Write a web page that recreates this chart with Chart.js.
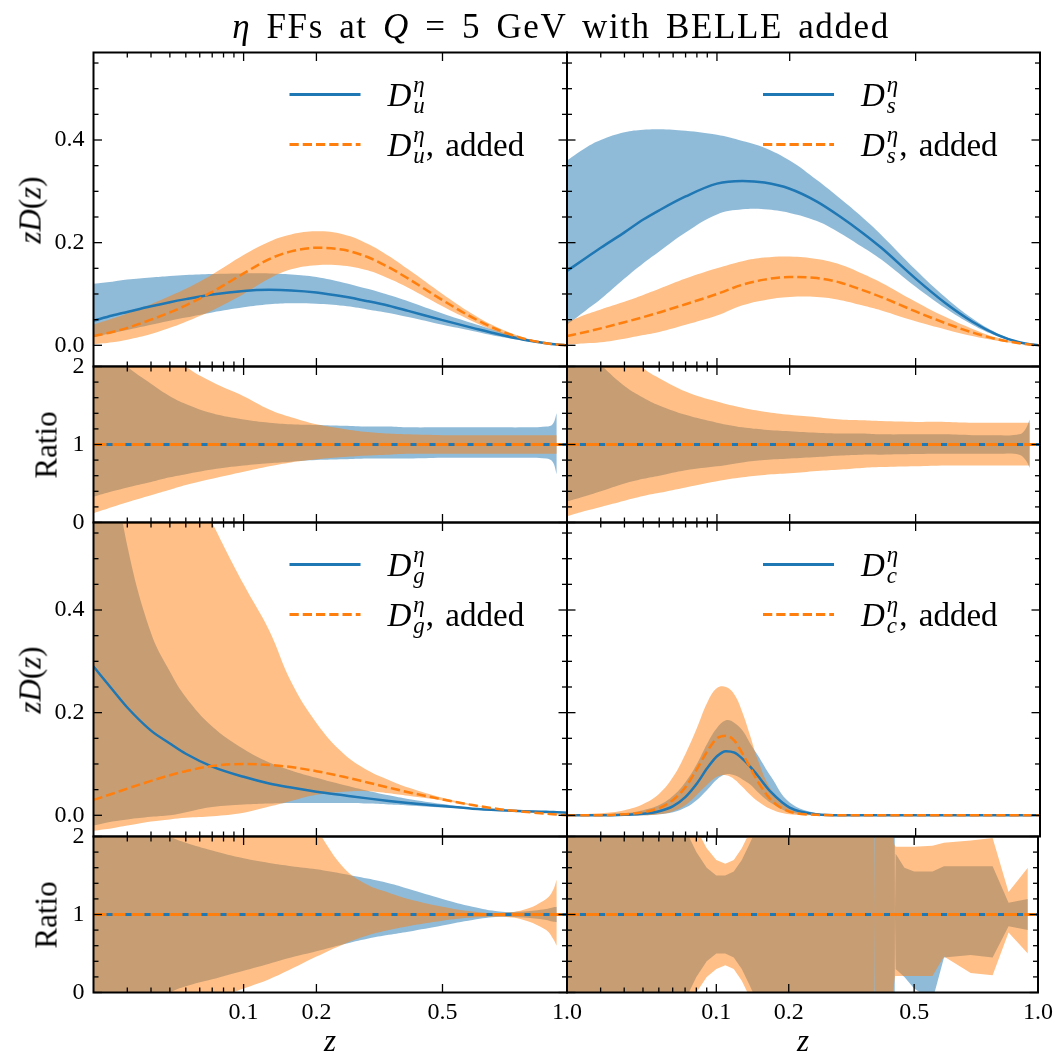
<!DOCTYPE html>
<html>
<head>
<meta charset="utf-8">
<script src="https://cdn.jsdelivr.net/npm/chart.js@4.4.0/dist/chart.umd.min.js"></script>
<style>
  body { margin: 0; background: #fff; }
  #wrap { position: relative; width: 1059px; height: 1057px; overflow: hidden; }
  #wrap canvas { position: absolute; left: 0; top: 0; }
  .lbl { position: absolute; font-family: "Liberation Serif", serif; color: #000; white-space: nowrap; line-height: 1; }
  .rot { transform: translate(-50%, -50%) rotate(-90deg); }
  .ctr { transform: translate(-50%, -50%); }
</style>
</head>
<body>
<div id="wrap">
  <canvas id="c0" width="1059" height="1057"></canvas>
  <canvas id="c1" width="1059" height="1057"></canvas>
  <canvas id="c2" width="1059" height="1057"></canvas>
  <canvas id="c3" width="1059" height="1057"></canvas>
  <canvas id="c4" width="1059" height="1057"></canvas>
  <canvas id="c5" width="1059" height="1057"></canvas>
  <canvas id="c6" width="1059" height="1057"></canvas>
  <canvas id="c7" width="1059" height="1057"></canvas>
  <div class="lbl ctr" style="left:561px; top:26px; font-size:35px; letter-spacing:1.6px; word-spacing:5px;"><i>η</i> FFs at <i>Q</i> = 5 GeV with BELLE added</div>
  <div class="lbl rot" style="left:30px; top:210px; font-size:31px;"><i>zD</i>(<i>z</i>)</div>
  <div class="lbl rot" style="left:30px; top:680px; font-size:31px;"><i>zD</i>(<i>z</i>)</div>
  <div class="lbl rot" style="left:46px; top:445px; font-size:31px;">Ratio</div>
  <div class="lbl rot" style="left:46px; top:915px; font-size:31px;">Ratio</div>
  <div class="lbl ctr" style="left:330px; top:1040px; font-size:31px;"><i>z</i></div>
  <div class="lbl ctr" style="left:803px; top:1040px; font-size:31px;"><i>z</i></div>
</div>
<script>
// ---------------- data ----------------
const zGrid = [0.01, 0.015, 0.02, 0.03, 0.04, 0.05, 0.07, 0.1, 0.13, 0.16, 0.2, 0.25, 0.3, 0.35, 0.4, 0.5, 0.6, 0.7, 0.8, 0.9, 0.95, 1.0];
const zRatio = [0.01, 0.015, 0.02, 0.03, 0.04, 0.05, 0.07, 0.1, 0.13, 0.16, 0.2, 0.25, 0.3, 0.35, 0.4, 0.5, 0.6, 0.7, 0.8, 0.9, 0.93, 0.95];

// D_u
const uCentral    = [0.048, 0.058, 0.065, 0.076, 0.084, 0.090, 0.099, 0.106, 0.108, 0.107, 0.103, 0.095, 0.086, 0.077, 0.067, 0.049, 0.034, 0.021, 0.011, 0.004, 0.0015, 0.0];
const uUpper      = [0.120, 0.124, 0.128, 0.132, 0.135, 0.137, 0.139, 0.140, 0.140, 0.138, 0.133, 0.122, 0.110, 0.098, 0.086, 0.062, 0.043, 0.027, 0.014, 0.005, 0.002, 0.0];
const uLower      = [0.016, 0.024, 0.030, 0.040, 0.048, 0.054, 0.064, 0.074, 0.080, 0.082, 0.081, 0.077, 0.070, 0.063, 0.055, 0.040, 0.028, 0.017, 0.009, 0.003, 0.001, 0.0];
const uAdded      = [0.018, 0.026, 0.034, 0.050, 0.064, 0.078, 0.104, 0.140, 0.168, 0.183, 0.190, 0.186, 0.172, 0.152, 0.130, 0.088, 0.054, 0.029, 0.013, 0.004, 0.0015, 0.0];
const uAddedUpper = [0.040, 0.052, 0.062, 0.080, 0.096, 0.110, 0.138, 0.176, 0.202, 0.216, 0.222, 0.216, 0.198, 0.174, 0.148, 0.100, 0.061, 0.033, 0.015, 0.005, 0.002, 0.0];
const uAddedLower = [0.002, 0.006, 0.011, 0.022, 0.034, 0.046, 0.068, 0.100, 0.130, 0.148, 0.156, 0.155, 0.146, 0.130, 0.112, 0.076, 0.047, 0.025, 0.011, 0.003, 0.001, 0.0];
const uRatioUp      = [2.5, 2.2, 2.0, 1.78, 1.62, 1.52, 1.40, 1.32, 1.28, 1.26, 1.25, 1.24, 1.23, 1.23, 1.22, 1.22, 1.22, 1.22, 1.22, 1.23, 1.26, 1.40];
const uRatioLo      = [0.33, 0.40, 0.45, 0.52, 0.58, 0.62, 0.68, 0.73, 0.76, 0.78, 0.80, 0.81, 0.82, 0.82, 0.82, 0.83, 0.83, 0.83, 0.83, 0.82, 0.78, 0.62];
const uAddRatioUp   = [4.0, 3.3, 2.9, 2.45, 2.2, 2.0, 1.8, 1.62, 1.45, 1.35, 1.26, 1.2, 1.16, 1.14, 1.13, 1.12, 1.12, 1.12, 1.12, 1.12, 1.12, 1.12];
const uAddRatioLo   = [0.12, 0.20, 0.26, 0.35, 0.42, 0.48, 0.56, 0.65, 0.72, 0.77, 0.81, 0.84, 0.86, 0.87, 0.88, 0.88, 0.88, 0.88, 0.88, 0.88, 0.88, 0.88];

// D_s
const sCentral    = [0.145, 0.170, 0.190, 0.220, 0.245, 0.263, 0.290, 0.315, 0.320, 0.317, 0.305, 0.280, 0.250, 0.220, 0.190, 0.130, 0.082, 0.046, 0.021, 0.006, 0.002, 0.0];
const sUpper      = [0.360, 0.385, 0.400, 0.415, 0.420, 0.421, 0.418, 0.410, 0.398, 0.385, 0.360, 0.322, 0.285, 0.250, 0.215, 0.147, 0.093, 0.052, 0.024, 0.007, 0.002, 0.0];
const sLower      = [0.040, 0.068, 0.090, 0.130, 0.160, 0.183, 0.220, 0.255, 0.265, 0.265, 0.258, 0.242, 0.218, 0.192, 0.167, 0.114, 0.072, 0.040, 0.018, 0.005, 0.002, 0.0];
const sAdded      = [0.018, 0.026, 0.033, 0.045, 0.055, 0.064, 0.080, 0.100, 0.118, 0.128, 0.133, 0.131, 0.122, 0.108, 0.094, 0.066, 0.043, 0.025, 0.012, 0.004, 0.0015, 0.0];
const sAddedUpper = [0.045, 0.060, 0.070, 0.085, 0.098, 0.110, 0.130, 0.150, 0.164, 0.171, 0.173, 0.168, 0.157, 0.140, 0.122, 0.085, 0.055, 0.032, 0.015, 0.005, 0.002, 0.0];
const sAddedLower = [0.0015, 0.004, 0.006, 0.013, 0.020, 0.026, 0.040, 0.058, 0.078, 0.088, 0.094, 0.094, 0.088, 0.078, 0.068, 0.047, 0.031, 0.018, 0.009, 0.003, 0.001, 0.0];
const sRatioUp      = [2.5, 2.2, 2.02, 1.75, 1.6, 1.5, 1.38, 1.28, 1.22, 1.19, 1.17, 1.15, 1.14, 1.14, 1.13, 1.13, 1.13, 1.12, 1.12, 1.13, 1.2, 1.32];
const sRatioLo      = [0.27, 0.34, 0.40, 0.50, 0.56, 0.60, 0.67, 0.72, 0.77, 0.80, 0.82, 0.84, 0.86, 0.87, 0.87, 0.877, 0.88, 0.88, 0.88, 0.87, 0.8, 0.7];
const sAddRatioUp   = [3.5, 3.0, 2.7, 2.25, 1.98, 1.85, 1.68, 1.55, 1.47, 1.42, 1.38, 1.35, 1.32, 1.31, 1.30, 1.29, 1.29, 1.28, 1.28, 1.28, 1.28, 1.28];
const sAddRatioLo   = [0.08, 0.15, 0.20, 0.28, 0.34, 0.38, 0.45, 0.53, 0.58, 0.61, 0.63, 0.66, 0.68, 0.70, 0.71, 0.72, 0.73, 0.73, 0.73, 0.73, 0.73, 0.73];

// D_g
const gCentral    = [0.290, 0.245, 0.210, 0.165, 0.140, 0.120, 0.095, 0.075, 0.062, 0.054, 0.046, 0.039, 0.033, 0.028, 0.024, 0.018, 0.013, 0.010, 0.008, 0.007, 0.006, 0.005];
const gUpper      = [1.000, 0.710, 0.525, 0.355, 0.280, 0.230, 0.173, 0.129, 0.103, 0.0875, 0.073, 0.059, 0.048, 0.039, 0.032, 0.022, 0.014, 0.0104, 0.0083, 0.0075, 0.0066, 0.0055];
const gLower      = [-0.020, -0.012, -0.008, -0.003, 0.000, 0.006, 0.016, 0.021, 0.023, 0.024, 0.024, 0.024, 0.023, 0.021, 0.019, 0.015, 0.012, 0.0097, 0.0077, 0.0065, 0.0055, 0.0045];
const gAdded      = [0.030, 0.042, 0.052, 0.067, 0.078, 0.086, 0.096, 0.100, 0.098, 0.094, 0.086, 0.075, 0.064, 0.054, 0.045, 0.031, 0.020, 0.012, 0.007, 0.003, 0.0015, 0.0];
const gAddedUpper = [1.50, 1.20, 0.95, 0.82, 0.75, 0.68, 0.57, 0.45, 0.36, 0.26, 0.18, 0.12, 0.088, 0.069, 0.054, 0.034, 0.021, 0.012, 0.0074, 0.0036, 0.002, 0.0];
const gAddedLower = [-0.030, -0.025, -0.020, -0.012, -0.008, -0.005, -0.002, 0.005, 0.017, 0.028, 0.040, 0.046, 0.047, 0.043, 0.038, 0.029, 0.019, 0.0116, 0.0065, 0.0024, 0.001, 0.0];
const gRatioUp      = [3.5, 2.9, 2.5, 2.15, 2.0, 1.92, 1.82, 1.72, 1.66, 1.62, 1.58, 1.52, 1.46, 1.4, 1.33, 1.2, 1.1, 1.04, 1.04, 1.07, 1.09, 1.1];
const gRatioLo      = [-1.0, -0.6, -0.4, -0.15, 0.0, 0.08, 0.17, 0.28, 0.37, 0.45, 0.53, 0.62, 0.69, 0.74, 0.78, 0.86, 0.93, 0.97, 0.96, 0.93, 0.91, 0.90];
const gAddRatioUp   = [5.0, 4.5, 4.0, 3.8, 3.6, 3.5, 3.3, 3.2, 3.0, 2.6, 2.1, 1.6, 1.38, 1.28, 1.2, 1.1, 1.04, 1.02, 1.06, 1.2, 1.3, 1.45];
const gAddRatioLo   = [-1.0, -0.9, -0.8, -0.6, -0.45, -0.3, -0.1, 0.05, 0.17, 0.30, 0.46, 0.62, 0.73, 0.80, 0.85, 0.92, 0.96, 0.97, 0.93, 0.80, 0.70, 0.60];

// D_c
const zCharm = [0.01, 0.02, 0.03, 0.04, 0.05, 0.06, 0.07, 0.08, 0.09, 0.1, 0.11, 0.12, 0.13, 0.14, 0.15, 0.17, 0.2, 0.25, 0.3, 0.4, 0.5, 0.7, 1.0];
const cCentral    = [0, 0, 0.001, 0.003, 0.008, 0.018, 0.036, 0.062, 0.092, 0.115, 0.125, 0.122, 0.110, 0.095, 0.078, 0.045, 0.015, 0.002, 0, 0, 0, 0, 0];
const cUpper      = [0.001, 0.002, 0.004, 0.010, 0.020, 0.038, 0.065, 0.100, 0.140, 0.170, 0.185, 0.180, 0.165, 0.140, 0.118, 0.075, 0.025, 0.004, 0.001, 0, 0, 0, 0];
const cLower      = [0, 0, 0, 0, 0.002, 0.006, 0.015, 0.030, 0.050, 0.070, 0.080, 0.078, 0.070, 0.060, 0.046, 0.024, 0.006, 0.001, 0, 0, 0, 0, 0];
const cAdded      = [0, 0, 0.002, 0.006, 0.014, 0.030, 0.055, 0.090, 0.125, 0.150, 0.155, 0.145, 0.120, 0.093, 0.067, 0.030, 0.007, 0.001, 0, 0, 0, 0, 0];
const cAddedUpper = [0.002, 0.004, 0.010, 0.022, 0.042, 0.075, 0.120, 0.170, 0.220, 0.248, 0.250, 0.235, 0.200, 0.155, 0.110, 0.050, 0.013, 0.002, 0.001, 0, 0, 0, 0];
const cAddedLower = [0, 0, 0, 0, 0.002, 0.008, 0.020, 0.040, 0.060, 0.075, 0.078, 0.070, 0.055, 0.040, 0.028, 0.012, 0.002, 0, 0, 0, 0, 0, 0];
const zCharmRatio = [0.01, 0.03, 0.05, 0.06, 0.07, 0.08, 0.09, 0.1, 0.11, 0.12, 0.13, 0.14, 0.16, 0.2, 0.3, 0.383, 0.385, 0.387, 0.44, 0.442, 0.444, 0.47, 0.5, 0.56, 0.6, 0.7, 0.79, 0.86, 0.95];
const cRatioUp     = [5, 4, 3, 2.5, 2.1, 1.8, 1.6, 1.5, 1.5, 1.55, 1.7, 1.9, 2.3, 3, 4, 4, 4, 4, 4, 1, 1.78, 1.6, 1.55, 1.55, 1.62, 1.62, 1.62, 1.15, 1.2];
const cRatioLo     = [-3, -2, -1, -0.5, -0.1, 0.2, 0.4, 0.5, 0.5, 0.45, 0.3, 0.1, -0.3, -1, -2, -2, -2, -2, -2, 1, 0.3, 0.2, 0.05, -0.1, 0.45, 0.48, 0.45, 0.85, 0.8];
const cAddRatioUp  = [5, 4, 3.2, 2.8, 2.4, 2.1, 1.85, 1.7, 1.65, 1.7, 1.85, 2.05, 2.5, 3, 4, 4, 1, 4, 1.9, 1.88, 1.87, 1.87, 1.87, 1.88, 1.92, 1.95, 1.98, 1.29, 1.6];
const cAddRatioLo  = [-3, -2, -1.2, -0.7, -0.3, 0.0, 0.2, 0.3, 0.35, 0.3, 0.15, -0.05, -0.5, -1, -2, -2, 1, -2, 0.21, 0.21, 0.21, 0.21, 0.21, 0.21, 0.46, 0.25, 0.22, 0.77, 0.5];

// axis ticks
const xLabelTicks = [0.1, 0.2, 0.5, 1.0];
const xMinorTicks = [0.02, 0.03, 0.04, 0.05, 0.06, 0.07, 0.08, 0.09];
const yMainTicks = [0.0, 0.2, 0.4];
const yMainMinor = [0.05, 0.1, 0.15, 0.25, 0.3, 0.35, 0.45, 0.5, 0.55];
const yRatioTicks = [0, 1, 2];
const yRatioMinor = [0.2, 0.4, 0.6, 0.8, 1.2, 1.4, 1.6, 1.8];
const ratioLine = [1, 1];
const ratioLineX = [0.01, 1.0];

// ---------------- scale: cube-root z axis ----------------
class CbrtScale extends Chart.Scale {
  static id = 'cbrt';
  static defaults = {};
  determineDataLimits() {
    this.min = this.options.min;
    this.max = this.options.max;
  }
  buildTicks() {
    return xLabelTicks.map(v => ({ value: v }));
  }
  getLabelForValue(v) { return String(v); }
  configure() {
    super.configure();
    this._lo = Math.cbrt(this.min);
    this._hi = Math.cbrt(this.max);
  }
  getPixelForValue(v) {
    return this.getPixelForDecimal((Math.cbrt(v) - this._lo) / (this._hi - this._lo));
  }
  getPixelForTick(i) { return this.getPixelForValue(this.ticks[i].value); }
  getValueForPixel(p) {
    const d = this.getDecimalForPixel(p);
    return Math.pow(this._lo + d * (this._hi - this._lo), 3);
  }
}
Chart.register(CbrtScale);

const BLUE = '#1f77b4', ORANGE = '#ff7f0e';
const BLUE_A = 'rgba(31,119,180,0.5)', ORANGE_A = 'rgba(255,127,14,0.5)';
const FONT = '"Liberation Serif", serif';

// inward ticks + frame
const framePlugin = {
  id: 'frame',
  afterDraw(chart, args, o) {
    const { ctx, chartArea: a } = chart;
    const xs = chart.scales.x, ys = chart.scales.y;
    ctx.save();
    ctx.strokeStyle = '#000';
    ctx.lineWidth = 1.3;
    const seg = (x1, y1, x2, y2) => { ctx.beginPath(); ctx.moveTo(x1, y1); ctx.lineTo(x2, y2); ctx.stroke(); };
    const xt = (v, len) => { const p = xs.getPixelForValue(v); seg(p, a.bottom, p, a.bottom - len); seg(p, a.top, p, a.top + len); };
    const yt = (v, len) => { const p = ys.getPixelForValue(v); seg(a.left, p, a.left + len, p); seg(a.right, p, a.right - len, p); };
    xLabelTicks.forEach(v => xt(v, 8.5));
    xMinorTicks.forEach(v => xt(v, 5));
    o.major.forEach(v => yt(v, 8.5));
    o.minor.forEach(v => yt(v, 5));
    ctx.lineWidth = 2;
    ctx.strokeRect(a.left, a.top, a.width, a.height);
    ctx.restore();
  }
};

// legend with math-style labels
const mathLegend = {
  id: 'mathLegend',
  afterDraw(chart, args, o) {
    if (!o.sub) return;
    const { ctx, chartArea: a } = chart;
    const rows = [
      { color: BLUE, dash: [], suffix: '', y: a.top + 42 },
      { color: ORANGE, dash: [9.25, 4], suffix: ', added', y: a.top + 92 }
    ];
    ctx.save();
    rows.forEach(r => {
      ctx.strokeStyle = r.color;
      ctx.lineWidth = 2.8;
      ctx.setLineDash(r.dash);
      ctx.beginPath();
      ctx.moveTo(a.left + 196, r.y);
      ctx.lineTo(a.left + 267, r.y);
      ctx.stroke();
      ctx.setLineDash([]);
      ctx.fillStyle = '#000';
      ctx.textBaseline = 'alphabetic';
      let x = a.left + 294;
      const base = r.y + 11;
      ctx.font = 'italic 33px ' + FONT;
      ctx.fillText('D', x, base);
      x += ctx.measureText('D').width + 2;
      ctx.font = 'italic 23px ' + FONT;
      ctx.fillText('η', x, base - 14);
      ctx.fillText(o.sub, x, base + 7);
      x += Math.max(ctx.measureText('η').width, ctx.measureText(o.sub).width) + 1;
      if (r.suffix) {
        ctx.font = '33px ' + FONT;
        ctx.fillText(',', x, base);
        x += ctx.measureText(', ').width + 3;
        ctx.fillText('added', x, base);
      }
    });
    ctx.restore();
  }
};

function pts(xs, ys) { return xs.map((x, i) => ({ x: x, y: ys[i] })); }

function band(xs, up, lo, color, order, tension) {
  const common = { pointRadius: 0, borderWidth: 0, clip: 0, order: order, tension: tension };
  return [
    Object.assign({ data: pts(xs, up), fill: '+1', backgroundColor: color }, common),
    Object.assign({ data: pts(xs, lo), fill: false }, common)
  ];
}

function line(xs, ys, color, dash, width, order) {
  return { data: pts(xs, ys), borderColor: color, borderWidth: width, borderDash: dash,
           pointRadius: 0, fill: false, clip: 0, order: order, cubicInterpolationMode: 'monotone' };
}

const L = 93.5, M = 567, R = 1040;
const T = 52.5, A = 366.5, B = 522.5, C = 836.5, D = 992.5;
const W = 1059, H = 1057;

function makePanel(id, box, datasets, isRatio, leftCol, bottomRow, sub) {
  const yW = leftCol ? 60 : 0;
  const xH = bottomRow ? 44 : 0;
  const yMin = isRatio ? 0 : -0.0413, yMax = isRatio ? 2 : 0.5705;
  const yTicks = isRatio ? yRatioTicks : yMainTicks;
  new Chart(document.getElementById(id), {
    type: 'line',
    data: { datasets: datasets },
    options: {
      responsive: false, animation: false, events: [], devicePixelRatio: 1,
      layout: { padding: { left: box.l - yW, top: box.t, right: W - box.r, bottom: H - box.b - xH } },
      plugins: {
        legend: { display: false }, tooltip: { enabled: false },
        frame: { major: yTicks, minor: isRatio ? yRatioMinor : yMainMinor },
        mathLegend: { sub: sub || '' }
      },
      scales: {
        x: {
          type: 'cbrt', min: 0.01, max: 1.0, display: bottomRow,
          afterFit: s => { s.height = xH; },
          grid: { display: false, drawTicks: false }, border: { display: false },
          ticks: { padding: 6, autoSkip: false, maxRotation: 0, color: '#000',
                   font: { family: FONT, size: 24 },
                   callback: v => (v === 1 ? '1.0' : String(v)) }
        },
        y: {
          type: 'linear', min: yMin, max: yMax, display: leftCol,
          afterFit: s => { s.width = yW; },
          afterBuildTicks: s => { s.ticks = yTicks.map(v => ({ value: v })); },
          grid: { display: false, drawTicks: false }, border: { display: false },
          ticks: { padding: 9, color: '#000', font: { family: FONT, size: 24 },
                   callback: v => (isRatio ? String(v) : v.toFixed(1)) }
        }
      }
    },
    plugins: [framePlugin, mathLegend]
  });
}

function mainSets(xs, c, up, lo, ca, aup, alo, tension) {
  return [].concat(
    band(xs, up, lo, BLUE_A, 4, tension),
    band(xs, aup, alo, ORANGE_A, 3, tension),
    [line(xs, c, BLUE, [], 2.5, 2), line(xs, ca, ORANGE, [9.25, 4], 2.5, 1)]
  );
}
function ratioSets(xs, bu, bl, ou, ol, tension) {
  return [].concat(
    band(xs, bu, bl, BLUE_A, 4, tension),
    band(xs, ou, ol, ORANGE_A, 3, tension),
    [line(ratioLineX, ratioLine, BLUE, [], 3.2, 2), line(ratioLineX, ratioLine, ORANGE, [13, 6], 3.2, 1)]
  );
}

makePanel('c0', { l: L, r: M, t: T, b: A }, mainSets(zGrid, uCentral, uUpper, uLower, uAdded, uAddedUpper, uAddedLower, 0.4), false, true, false, 'u');
makePanel('c1', { l: M, r: R, t: T, b: A }, mainSets(zGrid, sCentral, sUpper, sLower, sAdded, sAddedUpper, sAddedLower, 0.4), false, false, false, 's');
makePanel('c2', { l: L, r: M, t: A, b: B }, ratioSets(zRatio, uRatioUp, uRatioLo, uAddRatioUp, uAddRatioLo, 0.4), true, true, false);
makePanel('c3', { l: M, r: R, t: A, b: B }, ratioSets(zRatio, sRatioUp, sRatioLo, sAddRatioUp, sAddRatioLo, 0.4), true, false, false);
makePanel('c4', { l: L, r: M, t: B, b: C }, mainSets(zGrid, gCentral, gUpper, gLower, gAdded, gAddedUpper, gAddedLower, 0.4), false, true, false, 'g');
makePanel('c5', { l: M, r: R, t: B, b: C }, mainSets(zCharm, cCentral, cUpper, cLower, cAdded, cAddedUpper, cAddedLower, 0.4), false, false, false, 'c');
makePanel('c6', { l: L, r: M, t: C, b: D }, ratioSets(zRatio, gRatioUp, gRatioLo, gAddRatioUp, gAddRatioLo, 0.4), true, true, true);
makePanel('c7', { l: M, r: R, t: C, b: D }, ratioSets(zCharmRatio, cRatioUp, cRatioLo, cAddRatioUp, cAddRatioLo, 0), true, false, true);
</script>
</body>
</html>
